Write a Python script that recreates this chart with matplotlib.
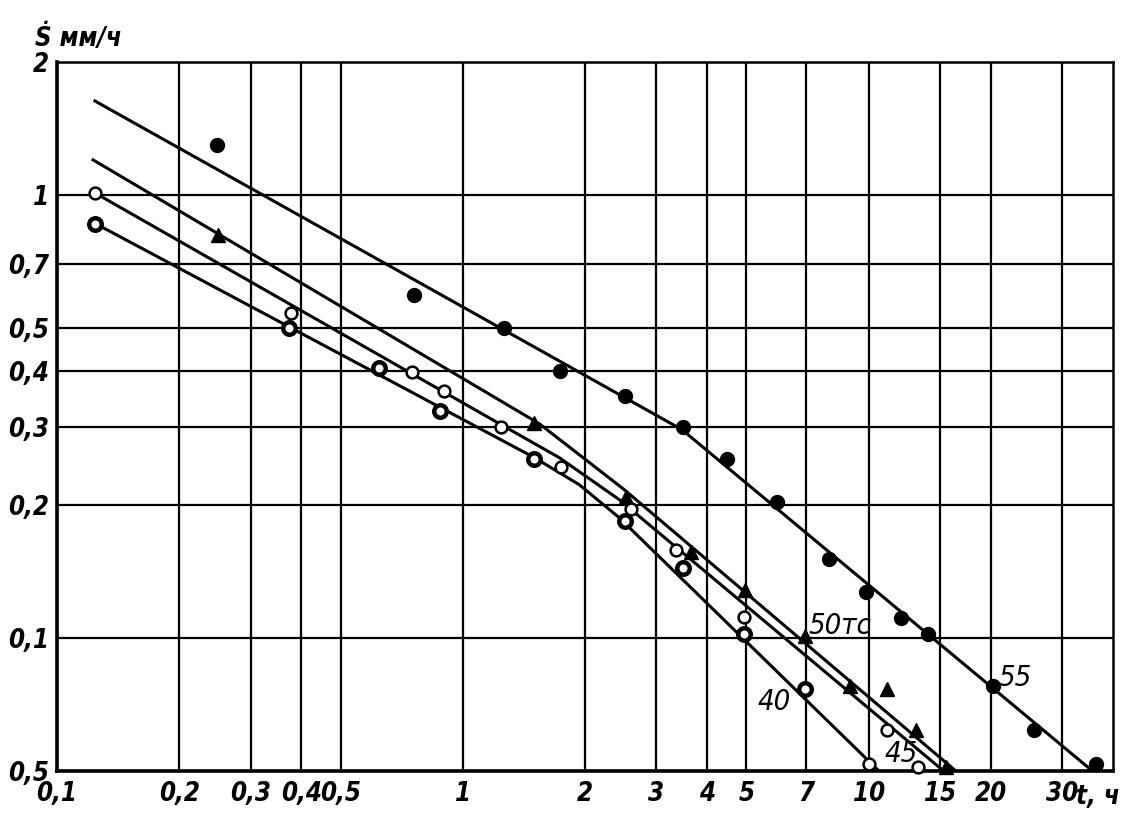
import matplotlib
matplotlib.use("Agg")
import matplotlib.pyplot as plt
from matplotlib import font_manager as fm

# ---------------- data ----------------
x_ticks = [0.1, 0.2, 0.3, 0.4, 0.5, 1, 2, 3, 4, 5, 7, 10, 15, 20, 30]
x_tick_labels = ["0,1", "0,2", "0,3", "0,4", "0,5", "1", "2", "3", "4", "5",
                 "7", "10", "15", "20", "30"]
y_ticks = [0.05, 0.1, 0.2, 0.3, 0.4, 0.5, 0.7, 1, 2]
y_tick_labels = ["0,5", "0,1", "0,2", "0,3", "0,4", "0,5", "0,7", "1", "2"]

# measured points, series 55 (filled circles)
t55 = [0.2475, 0.760, 1.265, 1.737, 2.51, 3.49, 4.47, 5.94, 7.97, 9.83, 12.0, 13.97, 20.2, 25.5, 36.4]
s55 = [1.30, 0.596, 0.502, 0.401, 0.352, 0.300, 0.253, 0.203, 0.151, 0.127, 0.1106, 0.1018, 0.0777, 0.0618, 0.0518]
# series 50 (triangles)
t50 = [0.249, 1.50, 2.525, 3.65, 4.95, 6.96, 8.98, 11.07, 13.05, 15.5]
s50 = [0.814, 0.305, 0.2085, 0.156, 0.1285, 0.101, 0.078, 0.0765, 0.0618, 0.051]
# series 45 (open circles)
t45 = [0.124, 0.378, 0.751, 0.9005, 1.243, 1.747, 2.597, 3.35, 4.93, 11.07, 10.0, 13.2]
s45 = [1.01, 0.543, 0.399, 0.362, 0.300, 0.2436, 0.195, 0.1575, 0.1117, 0.0618, 0.0518, 0.051]
# series 40 (ringed circles)
t40 = [0.124, 0.374, 0.623, 0.880, 1.50, 2.51, 3.49, 4.93, 6.96]
s40 = [0.862, 0.502, 0.4075, 0.326, 0.253, 0.184, 0.144, 0.102, 0.0768]

# drawn fitted curves
fit55_t = [0.124, 3.467, 35.6]
fit55_s = [1.633, 0.2953, 0.05]
fit50_t = [0.1227, 1.542, 1.934, 2.496, 16.4]
fit50_s = [1.202, 0.3047, 0.2594, 0.2163, 0.05]
fit45_t = [0.124, 1.23, 1.727, 2.427, 15.3]
fit45_s = [1.012, 0.3047, 0.2554, 0.2053, 0.05]
fit40_t = [0.1247, 1.50, 1.934, 2.427, 10.6]
fit40_s = [0.8616, 0.2554, 0.2219, 0.1869, 0.05]

curve_labels = ["55", "50тс", "45", "40"]
curve_label_pos = [(23.0, 0.081), (8.5, 0.1065), (12.0, 0.0545), (5.85, 0.0715)]

# ---------------- fonts ----------------
def find_font(weight_bold, italic):
    best = None
    for f in fm.fontManager.ttflist:
        nm = f.name.lower()
        fn = f.fname.lower()
        narrow = ("narrow" in nm or "narrow" in fn or "condensed" in fn
                  or str(f.stretch) in ("condensed", "semi-condensed", "500", "375"))
        if not narrow:
            continue
        isb = (f.weight in ("bold", 700) or (isinstance(f.weight, int) and f.weight >= 600)
               or "bold" in fn)
        isi = f.style in ("italic", "oblique") or "oblique" in fn or "italic" in fn
        if isb == weight_bold and isi == italic:
            score = 0 if ("liberation" in fn) else 1
            if best is None or score < best[0]:
                best = (score, f.fname)
    return best[1] if best else None

bi = find_font(True, True)
if bi:
    tick_fp = fm.FontProperties(fname=bi, size=18.5)
else:
    tick_fp = fm.FontProperties(family="DejaVu Sans", weight="bold", style="italic", size=16)
ii = find_font(False, True)
if ii:
    lab_fp = fm.FontProperties(fname=ii, size=21)
else:
    lab_fp = fm.FontProperties(family="DejaVu Sans", style="italic", size=18)

fig = plt.figure(figsize=(11.25, 8.19), dpi=100)
ax = fig.add_axes([57 / 1125, 1 - 771 / 819, (1113 - 57) / 1125, (771 - 62) / 819])
ax.set_xscale("log")
ax.set_yscale("log")
ax.set_xlim(0.1, 40)
ax.set_ylim(0.05, 2)

ax.set_xticks(x_ticks)
ax.set_xticklabels(x_tick_labels)
ax.set_yticks(y_ticks)
ax.set_yticklabels(y_tick_labels)
ax.minorticks_off()
ax.tick_params(axis="x", length=0, pad=7)
ax.tick_params(axis="y", length=0, pad=6)
for lab in ax.get_xticklabels() + ax.get_yticklabels():
    lab.set_fontproperties(tick_fp)
ax.grid(True, color="black", linewidth=1.6)
ax.set_axisbelow(True)
for side, sp in ax.spines.items():
    sp.set_linewidth(2.6 if side in ("left", "bottom") else 1.8)

lw = 2.2
ax.plot(fit55_t, fit55_s, color="black", lw=lw, zorder=3)
ax.plot(fit50_t, fit50_s, color="black", lw=lw, zorder=3)
ax.plot(fit45_t, fit45_s, color="black", lw=lw, zorder=3)
ax.plot(fit40_t, fit40_s, color="black", lw=lw, zorder=3)

ax.plot(t55, s55, "o", ms=10, mfc="black", mec="black", zorder=4, clip_on=False)
ax.plot(t50, s50, "^", ms=10, mfc="black", mec="black", zorder=4, clip_on=False)
ax.plot(t45, s45, "o", ms=8.5, mfc="white", mec="black", mew=1.8, zorder=4, clip_on=False)
ax.plot(t40, s40, "o", ms=9, mfc="white", mec="black", mew=3.2, zorder=4, clip_on=False)

for lab, (tx, sy) in zip(curve_labels, curve_label_pos):
    ax.text(tx, sy, lab, fontproperties=lab_fp, ha="center", va="center", zorder=5)

fig.text(1120 / 1125, 1 - 797 / 819, "t, ч", fontproperties=tick_fp,
         ha="right", va="center")
fig.text(35 / 1125, 1 - 38 / 819, "Ṡ мм/ч", fontproperties=tick_fp,
         ha="left", va="center")

fig.savefig("out.png", dpi=100)
